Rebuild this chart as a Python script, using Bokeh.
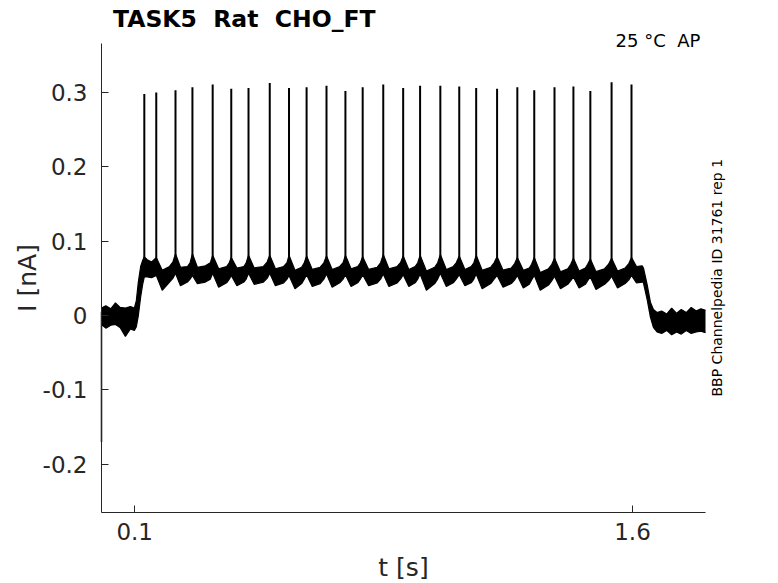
import math
from bokeh.plotting import figure
from bokeh.models import Range1d, FixedTicker, Label
from bokeh.embed import file_html
from bokeh.resources import INLINE

# ---- data ----
spike_t = [0.129, 0.165, 0.223, 0.274, 0.335, 0.391, 0.443, 0.507, 0.565, 0.618,
           0.678, 0.735, 0.787, 0.849, 0.909, 0.960, 1.021, 1.078, 1.129, 1.192,
           1.253, 1.304, 1.365, 1.422, 1.473, 1.537, 1.597]
spike_peak = [0.298, 0.300, 0.303, 0.307, 0.311, 0.305, 0.306, 0.313, 0.306, 0.307,
              0.309, 0.302, 0.307, 0.311, 0.306, 0.309, 0.309, 0.308, 0.306, 0.305,
              0.307, 0.303, 0.307, 0.308, 0.302, 0.314, 0.311]
spike_base = 0.065

# envelope of the noisy current trace: time, upper edge, lower edge
env_t = [0.000, 0.013, 0.028, 0.042, 0.056, 0.072, 0.087, 0.099,
         0.105, 0.111, 0.118, 0.124,
         0.129, 0.138, 0.151,
         0.165, 0.183, 0.205, 0.215,
         0.223, 0.238, 0.259, 0.267,
         0.274, 0.289, 0.313, 0.328,
         0.335, 0.353, 0.377, 0.385,
         0.391, 0.408, 0.429, 0.436,
         0.443, 0.460, 0.488, 0.499,
         0.507, 0.524, 0.549, 0.559,
         0.565, 0.583, 0.603, 0.611,
         0.618, 0.635, 0.659, 0.670,
         0.678, 0.695, 0.718, 0.728,
         0.735, 0.752, 0.772, 0.780,
         0.787, 0.805, 0.831, 0.841,
         0.849, 0.866, 0.891, 0.901,
         0.909, 0.926, 0.945, 0.953,
         0.960, 0.979, 1.004, 1.013,
         1.021, 1.039, 1.060, 1.069,
         1.078, 1.095, 1.114, 1.122,
         1.129, 1.147, 1.173, 1.183,
         1.192, 1.210, 1.235, 1.245,
         1.253, 1.271, 1.289, 1.296,
         1.304, 1.322, 1.347, 1.357,
         1.365, 1.383, 1.405, 1.414,
         1.422, 1.439, 1.458, 1.465,
         1.473, 1.490, 1.516, 1.528,
         1.537, 1.555, 1.578, 1.589,
         1.597, 1.612, 1.629,
         1.633, 1.644, 1.654, 1.663, 1.674,
         1.688, 1.703, 1.718, 1.733, 1.747, 1.762, 1.777, 1.792, 1.806, 1.820]
env_hi = [0.010, 0.013, 0.009, 0.017, 0.011, 0.010, 0.012, 0.010,
          0.020, 0.045, 0.066, 0.074,
          0.079, 0.075, 0.072,
          0.078, 0.061, 0.066, 0.072,
          0.083, 0.065, 0.066, 0.071,
          0.083, 0.065, 0.067, 0.071,
          0.081, 0.063, 0.066, 0.071,
          0.078, 0.064, 0.066, 0.071,
          0.081, 0.064, 0.066, 0.072,
          0.081, 0.063, 0.066, 0.071,
          0.081, 0.061, 0.065, 0.071,
          0.080, 0.062, 0.065, 0.071,
          0.080, 0.062, 0.066, 0.071,
          0.081, 0.063, 0.066, 0.071,
          0.079, 0.062, 0.065, 0.071,
          0.082, 0.063, 0.066, 0.071,
          0.080, 0.062, 0.066, 0.071,
          0.081, 0.060, 0.065, 0.071,
          0.082, 0.062, 0.066, 0.071,
          0.080, 0.062, 0.066, 0.071,
          0.081, 0.061, 0.065, 0.071,
          0.079, 0.061, 0.064, 0.070,
          0.078, 0.061, 0.064, 0.069,
          0.078, 0.058, 0.063, 0.069,
          0.077, 0.059, 0.063, 0.069,
          0.077, 0.060, 0.064, 0.069,
          0.076, 0.059, 0.063, 0.069,
          0.077, 0.060, 0.064, 0.070,
          0.078, 0.066, 0.067,
          0.064, 0.042, 0.018, 0.008, 0.004,
          0.006, 0.002, 0.010, 0.003, 0.008, 0.004, 0.011, 0.006, 0.009, 0.007]
env_lo = [-0.012, -0.017, -0.013, -0.012, -0.016, -0.028, -0.018, -0.020,
          -0.015, 0.000, 0.025, 0.042,
          0.052, 0.052, 0.051,
          0.054, 0.034, 0.045, 0.050,
          0.057, 0.040, 0.045, 0.049,
          0.054, 0.043, 0.045, 0.049,
          0.057, 0.038, 0.044, 0.049,
          0.054, 0.040, 0.045, 0.049,
          0.057, 0.042, 0.045, 0.050,
          0.057, 0.040, 0.044, 0.049,
          0.054, 0.036, 0.043, 0.049,
          0.055, 0.039, 0.043, 0.049,
          0.056, 0.038, 0.044, 0.049,
          0.055, 0.039, 0.044, 0.049,
          0.055, 0.040, 0.044, 0.049,
          0.056, 0.039, 0.044, 0.049,
          0.055, 0.039, 0.044, 0.049,
          0.056, 0.034, 0.043, 0.049,
          0.057, 0.039, 0.044, 0.049,
          0.055, 0.040, 0.044, 0.049,
          0.056, 0.036, 0.043, 0.049,
          0.054, 0.038, 0.043, 0.048,
          0.054, 0.037, 0.042, 0.048,
          0.054, 0.034, 0.041, 0.047,
          0.053, 0.036, 0.042, 0.047,
          0.052, 0.037, 0.042, 0.047,
          0.052, 0.035, 0.042, 0.047,
          0.053, 0.037, 0.043, 0.048,
          0.054, 0.044, 0.045,
          0.044, 0.022, -0.002, -0.016, -0.022,
          -0.024, -0.020, -0.026, -0.022, -0.025, -0.020, -0.024, -0.022, -0.021, -0.023]

# initial transient at the first sample
transient_t = [0.000, 0.000]
transient_v = [-0.170, 0.005]

# visible axis limits
x_lim = (0.0, 1.820)
y_lim = (-0.265, 0.366)

x_ticks = [0.1, 1.6]
x_tick_labels = ["0.1", "1.6"]
y_ticks = [-0.2, -0.1, 0.0, 0.1, 0.2, 0.3]
y_tick_labels = ["-0.2", "-0.1", "0", "0.1", "0.2", "0.3"]

NB = "\u00a0"
title_text = "TASK5 " + NB + "Rat " + NB + "CHO_FT"
info_text = "25 °C " + NB + "AP"
side_text = "BBP Channelpedia ID 31761 rep 1"
x_label = "t [s]"
y_label = "I [nA]"

FONT = "DejaVu Sans"
AX = "#262626"

# ---- layout (pixels) ----
W, H = 778, 583
AX_L, AX_R, AX_T, AX_B = 101, 705, 43, 512   # where the axes box sits on the canvas
sx = (x_lim[1] - x_lim[0]) / (AX_R - AX_L)
sy = (y_lim[1] - y_lim[0]) / (AX_B - AX_T)
x_range = Range1d(x_lim[0] - AX_L * sx, x_lim[1] + (W - AX_R) * sx)
y_range = Range1d(y_lim[0] - (H - AX_B) * sy, y_lim[1] + AX_T * sy)

p = figure(width=W, height=H, output_backend="svg", toolbar_location=None,
           x_range=x_range, y_range=y_range,
           min_border_left=0, min_border_right=0, min_border_top=0, min_border_bottom=0)
p.outline_line_color = None
p.grid.visible = False
p.background_fill_color = "white"
p.border_fill_color = "white"

# trace
p.varea(x=env_t, y1=env_lo, y2=env_hi, fill_color="black")
p.line(env_t, env_hi, line_color="black", line_width=1.2)
p.line(env_t, env_lo, line_color="black", line_width=1.2)
p.segment(x0=spike_t, y0=[spike_base] * len(spike_t), x1=spike_t, y1=spike_peak,
          line_color="black", line_width=2)
p.line(transient_t, transient_v, line_color="black", line_width=1.5)

# axes at fixed positions
for ax in (p.xaxis[0], p.yaxis[0]):
    ax.axis_line_color = AX
    ax.axis_line_width = 1
    ax.major_tick_line_color = AX
    ax.major_tick_in = 7
    ax.major_tick_out = 0
    ax.minor_tick_line_color = None
    ax.major_label_text_font = FONT
    ax.major_label_text_font_size = "23px"
    ax.major_label_text_color = AX

p.xaxis[0].fixed_location = y_lim[0]
p.xaxis[0].bounds = x_lim
p.xaxis[0].ticker = FixedTicker(ticks=x_ticks)
p.xaxis[0].major_label_overrides = dict(zip(x_ticks, x_tick_labels))
p.xaxis[0].major_label_standoff = 10

p.yaxis[0].fixed_location = x_lim[0]
p.yaxis[0].bounds = y_lim
p.yaxis[0].ticker = FixedTicker(ticks=y_ticks)
p.yaxis[0].major_label_overrides = dict(zip(y_ticks, y_tick_labels))
p.yaxis[0].major_label_standoff = 14

# texts: anchored at the vertical middle of the glyphs
# (screen units from the canvas bottom-left, y upward)
def lab(x, y_from_top, text, size, color="black", bold=False, angle=0.0, align="left"):
    p.add_layout(Label(x=x, y=H - y_from_top, x_units="screen", y_units="screen",
                       text=text, text_font=FONT, text_font_size=size,
                       text_font_style="bold" if bold else "normal",
                       text_color=color, angle=angle,
                       text_baseline="middle", text_align=align))

lab(112.5, 18.5, title_text, "23.5px", bold=True)
lab(615, 40.4, info_text, "18px")
lab(716, 396, side_text, "14px", angle=math.pi / 2)
lab(403, 566.5, x_label, "25px", color=AX, align="center")
lab(27, 277.5, y_label, "25px", color=AX, angle=math.pi / 2, align="center")

open("out.html", "w").write(file_html(p, INLINE))
